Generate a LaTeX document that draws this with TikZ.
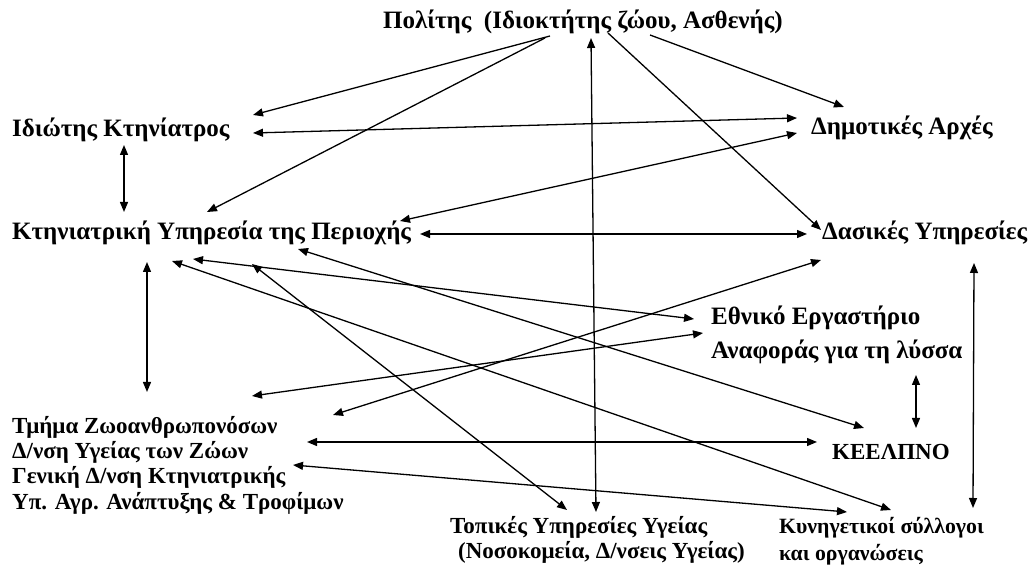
\documentclass[tikz,border=0pt]{standalone}
\usepackage{fontspec}
\setmainfont{Liberation Serif}
\usetikzlibrary{arrows.meta}

\begin{document}
\begin{tikzpicture}[x=1pt, y=1pt]
    % Styles
    \tikzstyle{actor} = [inner sep=0pt, anchor=west, align=left,
        font=\fontsize{25}{25.5}\selectfont\bfseries]
    \tikzstyle{smallactor} = [actor, font=\fontsize{23}{25.3}\selectfont\bfseries]
    \tikzstyle{arrow} = [line width=1.3pt, -{Triangle[length=10pt,width=8pt]}]
    \tikzstyle{both} = [line width=1.3pt, {Triangle[length=10pt,width=8pt]}-{Triangle[length=10pt,width=8pt]}]

    \useasboundingbox (0,0) rectangle (1034,570);

    % Nodes
    \node [actor] (pol) at (383,548) {Πολίτης \ (Ιδιοκτήτης ζώου, Ασθενής)};
    \node [actor] (idi) at (12,440) {Ιδιώτης Κτηνίατρος};
    \node [actor] (dim) at (811,442) {Δημοτικές Αρχές};
    \node [actor] (kty) at (12,337) {Κτηνιατρική Υπηρεσία της Περιοχής};
    \node [actor] (das) at (822,337) {Δασικές Υπηρεσίες};
    \node [actor] (eth) at (711,235) {Εθνικό Εργαστήριο\\[8.5pt]Αναφοράς για τη λύσσα};
    \node [smallactor] (tmi) at (12,105) {Τμήμα Ζωοανθρωπονόσων\\Δ/νση Υγείας των Ζώων\\Γενική Δ/νση Κτηνιατρικής\\Υπ. Αγρ. Ανάπτυξης \& Τροφίμων};
    \node [smallactor] (kee) at (832,118) {ΚΕΕΛΠΝΟ};
    \node [smallactor] (top) at (450,30) {Τοπικές Υπηρεσίες Υγείας\\\hspace{8pt}(Νοσοκομεία, Δ/νσεις Υγείας)};
    \node [actor, font=\fontsize{21.8}{27}\selectfont\bfseries] (kyn) at (779,29) {Κυνηγετικοί σύλλογοι\\και οργανώσεις};

    % Arrows
    \draw [arrow] ([shift={(167,-14)}]pol.west) -- ([shift={(241,15)}]idi.west);
    \draw [arrow] ([shift={(162,-16)}]pol.west) -- ([shift={(195,21)}]kty.west);
    \draw [both] ([shift={(208,-16)}]pol.west) -- ([shift={(146,28)}]top.west);
    \draw [arrow] ([shift={(225,-11)}]pol.west) -- ([shift={(-1,3)}]das.west);
    \draw [arrow] ([shift={(267,-13)}]pol.west) -- ([shift={(33,21)}]dim.west);
    \draw [both] ([shift={(241,-3)}]idi.west) -- ([shift={(-14,10)}]dim.west);
    \draw [both] ([shift={(112,-15)}]idi.west) -- ([shift={(112,21)}]kty.west);
    \draw [both] ([shift={(-14,-5)}]dim.west) -- ([shift={(388,12)}]kty.west);
    \draw [both] ([shift={(408,-1)}]kty.west) -- ([shift={(-15,-1)}]das.west);
    \draw [both] ([shift={(135,-29)}]kty.west) -- ([shift={(135,73)}]tmi.west);
    \draw [both] ([shift={(160,-28)}]kty.west) -- ([shift={(112,31)}]kyn.west);
    \draw [both] ([shift={(181,-26)}]kty.west) -- ([shift={(-17,16)}]eth.west);
    \draw [both] ([shift={(240,-31)}]kty.west) -- ([shift={(117,30)}]top.west);
    \draw [both] ([shift={(286,-16)}]kty.west) -- ([shift={(32,24)}]kee.west);
    \draw [both] ([shift={(240,69)}]tmi.west) -- ([shift={(-8,2)}]eth.west);
    \draw [both] ([shift={(321,50)}]tmi.west) -- ([shift={(-1,-27)}]das.west);
    \draw [both] ([shift={(295,23)}]tmi.west) -- ([shift={(-15,10)}]kee.west);
    \draw [both] ([shift={(281,0)}]tmi.west) -- ([shift={(68,29)}]kyn.west);
    \draw [both] ([shift={(152,-30)}]das.west) -- ([shift={(194,33)}]kyn.west);
    \draw [both] ([shift={(205,-40)}]eth.west) -- ([shift={(84,24)}]kee.west);
\end{tikzpicture}
\end{document}
